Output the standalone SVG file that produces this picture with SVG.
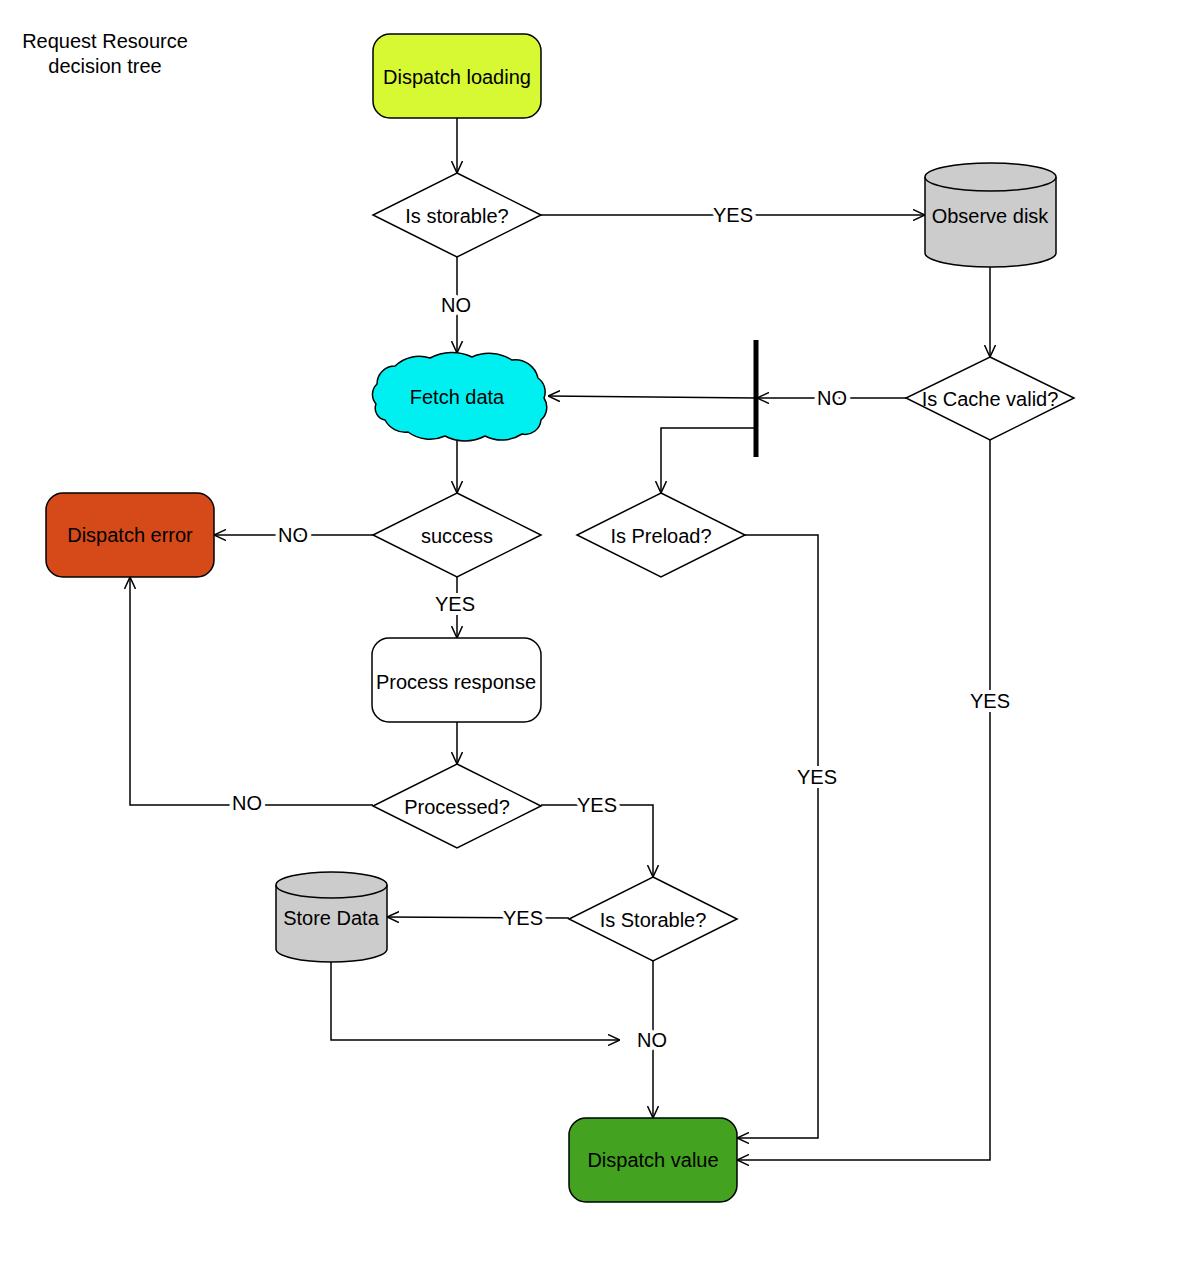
<svg xmlns="http://www.w3.org/2000/svg" width="1200" height="1286" viewBox="0 0 1200 1286">
<style>
text{font-family:"Liberation Sans",Arial,sans-serif;font-size:20px;fill:#000;text-anchor:middle;dominant-baseline:central}
.n{stroke:#000;stroke-width:1.5}
.c{fill:none;stroke:#000;stroke-width:1.5}
.lbl{stroke:#fff;stroke-width:8;paint-order:stroke;stroke-linejoin:round}
</style>
<defs>
<marker id="a" viewBox="0 0 12 12" refX="12" refY="6" markerWidth="12" markerHeight="12" markerUnits="userSpaceOnUse" orient="auto">
<path d="M0,0.5 L12,6 L0,11.5" fill="none" stroke="#000" stroke-width="1.5"/>
</marker>
</defs>
<rect width="1200" height="1286" fill="#fff"/>
<g id="title">
<text x="105" y="41">Request Resource</text>
<text x="105" y="66">decision tree</text>
</g>
<g id="connectors">
<path class="c" d="M457,118 V173" marker-end="url(#a)"/>
<path class="c" d="M541,215 H925" marker-end="url(#a)"/>
<text class="lbl" x="733" y="215">YES</text>
<path class="c" d="M457,257 V353" marker-end="url(#a)"/>
<text class="lbl" x="456" y="305">NO</text>
<path class="c" d="M990,267 V357" marker-end="url(#a)"/>
<path class="c" d="M906,398 H757" marker-end="url(#a)"/>
<text class="lbl" x="832" y="398">NO</text>
<path class="c" d="M756,398 L548,396" marker-end="url(#a)"/>
<path class="c" d="M756,428 H661 V493" marker-end="url(#a)"/>
<path class="c" d="M745,535 H818 V1138 H737" marker-end="url(#a)"/>
<text class="lbl" x="817" y="777">YES</text>
<path class="c" d="M990,440 V1160 H737" marker-end="url(#a)"/>
<text class="lbl" x="990" y="701">YES</text>
<path class="c" d="M457,440 V493" marker-end="url(#a)"/>
<path class="c" d="M373,535 H214" marker-end="url(#a)"/>
<text class="lbl" x="293" y="535">NO</text>
<path class="c" d="M457,577 V638" marker-end="url(#a)"/>
<text class="lbl" x="455" y="604">YES</text>
<path class="c" d="M457,722 V764" marker-end="url(#a)"/>
<path class="c" d="M373,805 H130 V577" marker-end="url(#a)"/>
<text class="lbl" x="247" y="803">NO</text>
<path class="c" d="M541,805 H653 V877" marker-end="url(#a)"/>
<text class="lbl" x="597" y="805">YES</text>
<path class="c" d="M569,918 L387,917" marker-end="url(#a)"/>
<text class="lbl" x="523" y="918">YES</text>
<path class="c" d="M331,962 V1040 H620" marker-end="url(#a)"/>
<path class="c" d="M653,961 V1118" marker-end="url(#a)"/>
<text class="lbl" x="652" y="1040">NO</text>
<line x1="756" y1="340" x2="756" y2="457" stroke="#000" stroke-width="5"/>
</g>
<g id="dispatch-loading">
<rect class="n" x="373" y="34" width="168" height="84" rx="17" fill="#d7f933"/>
<text x="457" y="77">Dispatch loading</text>
</g>
<g id="is-storable">
<polygon class="n" points="457,173 541,215 457,257 373,215" fill="#fff"/>
<text x="457" y="216">Is storable?</text>
</g>
<g id="observe-disk">
<path class="n" d="M925,177 A65.5,14 0 0 1 1056,177 V253 A65.5,14 0 0 1 925,253 Z" fill="#cccccc"/>
<path class="c" d="M925,177 A65.5,14 0 0 0 1056,177"/>
<text x="990" y="216">Observe disk</text>
</g>
<g id="fetch-data">
<path class="n" fill="#00f0f2" d="M395,366 A35,35 0 0 1 430,358 A46.6,46.6 0 0 1 472,357 A42.5,42.5 0 0 1 512,360 A23.5,23.5 0 0 1 538,378 A17,17 0 0 1 544,398 A17,17 0 0 1 541,420 A15.8,15.8 0 0 1 522,434 A36.7,36.7 0 0 1 485,436 A42.5,42.5 0 0 1 445,436 A36.7,36.7 0 0 1 408,432 A23,23 0 0 1 385,420 A12,12 0 0 1 376,404 A14.5,14.5 0 0 1 377,384 A18,18 0 0 1 395,366 Z"/>
<text x="457" y="397">Fetch data</text>
</g>
<g id="is-cache-valid">
<polygon class="n" points="990,357 1074,398 990,440 906,398" fill="#fff"/>
<text x="990" y="399">Is Cache valid?</text>
</g>
<g id="is-preload">
<polygon class="n" points="661,493 745,535 661,577 577,535" fill="#fff"/>
<text x="661" y="536">Is Preload?</text>
</g>
<g id="success">
<polygon class="n" points="457,493 541,535 457,577 373,535" fill="#fff"/>
<text x="457" y="536">success</text>
</g>
<g id="dispatch-error">
<rect class="n" x="46" y="493" width="168" height="84" rx="17" fill="#d64a19"/>
<text x="130" y="535">Dispatch error</text>
</g>
<g id="process-response">
<rect class="n" x="372" y="638" width="169" height="84" rx="17" fill="#fff"/>
<text x="456" y="682">Process response</text>
</g>
<g id="processed">
<polygon class="n" points="457,764 541,806 457,848 373,806" fill="#fff"/>
<text x="457" y="807">Processed?</text>
</g>
<g id="is-storable-2">
<polygon class="n" points="653,877 737,919 653,961 569,919" fill="#fff"/>
<text x="653" y="920">Is Storable?</text>
</g>
<g id="store-data">
<path class="n" d="M276,885 A55.5,13 0 0 1 387,885 V949 A55.5,13 0 0 1 276,949 Z" fill="#cccccc"/>
<path class="c" d="M276,885 A55.5,13 0 0 0 387,885"/>
<text x="331" y="918">Store Data</text>
</g>
<g id="dispatch-value">
<rect class="n" x="569" y="1118" width="168" height="84" rx="17" fill="#43a21f"/>
<text x="653" y="1160">Dispatch value</text>
</g>
</svg>
